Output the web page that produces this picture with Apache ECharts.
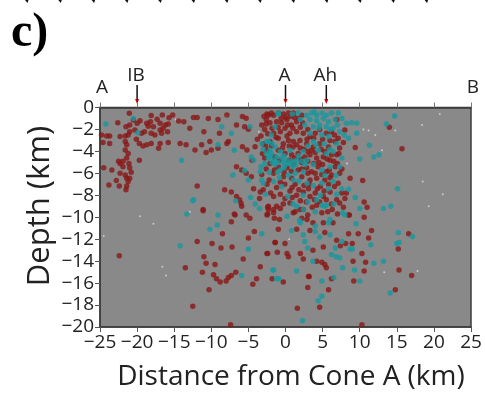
<!DOCTYPE html>
<html><head><meta charset="utf-8">
<script src="https://cdn.jsdelivr.net/npm/echarts@6/dist/echarts.min.js"></script>
<style>html,body{margin:0;padding:0;background:#fff;overflow:hidden}#c{width:485px;height:398px}</style>
</head><body><div id="c"></div>
<script>
// Axis settings
const xRange = [-25, 25];
const xStep = 5;
const yRange = [-20, 0];
const yStep = 2;
const xTitle = 'Distance from Cone A (km)';
const yTitle = 'Depth (km)';
const panelLabel = 'c)';
// Profile end labels and cone markers (km along profile)
const endLabels = [{ text: 'A', x: -25 }, { text: 'B', x: 25 }];
const coneMarkers = [{ text: 'IB', x: -20 }, { text: 'A', x: 0 }, { text: 'Ah', x: 5.5 }];

// Red events [distance, depth]
const redEvents = [
[-21.05,-0.53],[-18.1,-0.74],[-16.6,-0.68],[-15.7,-0.93],[-15.2,-0.68],[-14.4,-1.23],[-12.4,-0.9],[-11.9,-0.9],[-7.9,-0.68],[-5.8,-0.83],[-5.3,-0.99],
[-22.6,-1.38],[-20.5,-1.14],[-20.0,-1.44],[-19.6,-1.2],[-18.7,-1.44],[-18.2,-1.29],[-17.3,-1.08],[-16.9,-1.44],[-16.2,-1.59],[-15.8,-1.5],[-17.8,-1.75],[-18.5,-1.7],[-21.0,-1.6],[-21.5,-1.75],
[-21.0,-2.2],[-20.3,-2.05],[-19.4,-2.35],[-19.0,-2.2],[-18.1,-2.35],[-17.6,-2.5],[-16.9,-2.05],[-16.7,-2.35],[-16.5,-1.9],[-15.9,-2.2],
[-24.8,-2.5],[-24.1,-2.6],[-23.7,-2.6],[-22.3,-2.65],[-21.6,-2.6],[-21.2,-2.5],
[-24.6,-3.2],[-23.7,-3.27],[-21.6,-3.1],[-21.4,-3.4],[-20.1,-2.9],[-19.7,-3.27],[-19.2,-3.5],[-18.7,-3.4],[-18.1,-3.27],[-16.9,-3.27],[-15.8,-3.2],[-17.1,-3.72],[-14.2,-3.27],[-13.4,-3.4],[-12.2,-3.87],[-11.3,-3.4],[-10.7,-4.1],[-10.2,-3.1],[-10.0,-3.87],[-9.1,-3.72],[-7.9,-3.27],[-7.7,-3.1],[-8.9,-2.35],[-6.6,-1.59],[-5.5,-1.75],[-5.0,-1.99],
[-13.7,-1.3],[-10.4,-1.0],[-9.1,-1.1],[-12.9,-1.9],[-11.0,-2.2],
[-21.6,-3.87],[-21.2,-4.2],[-21.4,-4.6],[-21.9,-4.9],[-22.3,-5.1],[-22.5,-4.9],[-21.1,-5.1],[-21.0,-5.5],[-20.8,-5.9],[-21.9,-5.4],[-24.5,-5.5],[-23.4,-5.7],[-22.3,-6.0],[-21.6,-6.15],[-21.4,-6.45],[-21.0,-6.45],[-21.2,-6.75],[-22.8,-6.65],[-23.8,-7.06],[-22.4,-7.15],[-21.4,-7.15],[-21.5,-7.5],[-19.7,-4.8],[-11.9,-7.15],
[-5.8,-3.57],[-5.2,-3.87],[-4.1,-3.57],[-6.6,-5.4],[-5.9,-5.7],[-5.3,-6.0],[-4.6,-6.3],[-8.2,-7.5],[-7.3,-7.7],[-6.6,-8.1],[-6.2,-8.4],[-5.9,-9.0],[-6.8,-9.8],[-4.3,-7.4],[-3.4,-7.7],[-2.3,-9.3],[-11.1,-9.3],[-4.5,-4.8],[-3.8,-2.9],[-2.3,-0.7],[-2.6,-1.5],
[-11.1,-9.4],[-8.5,-11.5],[-11.9,-12.2],[-9.9,-12.4],[-8.7,-12.8],[-7.2,-12.7],[-22.4,-13.5],[-13.5,-14.6],[-11.0,-13.6],[-10.7,-14.2],[-9.5,-14.3],[-11.2,-15.0],[-9.7,-15.25],[-9.3,-15.6],[-8.8,-15.9],[-8.0,-15.8],[-7.7,-15.5],[-7.3,-15.3],[-6.7,-15.0],[-5.7,-13.8],[-5.0,-11.9],[-4.2,-11.3],[-3.4,-14.5],[-3.9,-15.6],[-4.4,-16.1],[-10.3,-16.6],[-12.5,-18.1],[-7.4,-19.8],[-7.3,-10.4],[-6.9,-9.7],[-6.0,-8.7],[-5.3,-9.8],[-4.8,-10.1],[-2.5,-9.8],[-1.6,-9.6],[-1.4,-12.3],[-1.1,-13.2],[-2.5,-13.3],[-1.8,-15.6],
[-2.4,-9.1],[-1.6,-9.3],[2.4,-9.3],[-2.4,-9.7],[-1.5,-10.1],[-0.8,-10.2],[1.05,-9.6],[2.9,-10.2],[3.7,-10.5],[5.1,-10.5],[6.4,-10.5],[8.6,-9.8],[-0.97,-11.1],[1.5,-11.1],[3.3,-11.2],[5.3,-11.4],[6.9,-12.1],[8.1,-12.4],[9.0,-12.4],[-1.4,-12.3],[-0.07,-12.4],[3.7,-13.0],[5.1,-12.7],[7.4,-12.6],[4.9,-14.1],[4.2,-14.0],[5.3,-14.3],[5.5,-14.6],[2.0,-13.3],[0.2,-13.3],[0.4,-13.6],[3.1,-15.4],[-2.4,-13.3],[2.4,-13.8],
[11.0,-9.1],[11.6,-11.2],[16.6,-11.5],[15.2,-12.9],[11.2,-11.9],[9.8,-11.5],[8.5,-11.5],[10.6,-10.0],[10.3,-13.3],[9.1,-14.0],[10.8,-14.1],[10.6,-14.9],[15.3,-14.8],[17.0,-15.3],[9.2,-15.8],[5.8,-16.6],[3.0,-16.4],[3.2,-15.4],[6.2,-15.6],[-0.3,-15.9],[14.8,-16.6],[4.6,-18.2],[1.6,-18.3],[10.3,-19.8],
[14.0,-1.8],[15.7,-3.75],[9.4,-3.65],[10.4,-6.66],[10.6,-8.6],
[-2.5,-0.6],[-1.6,-0.7],[-0.97,-0.5],[-0.3,-0.6],[0.4,-0.5],[1.05,-0.5],[2.2,-0.7],[-2.6,-1.1],[-2.1,-1.4],[-1.2,-1.3],[-0.5,-1.4],[0.2,-1.1],[0.8,-1.6],[1.5,-1.3],[-3.2,-1.6],[-2.8,-2.0],[-1.6,-2.35],[-0.7,-2.2],[-0.07,-1.9],[0.6,-2.35],[1.5,-2.2],[2.4,-2.35],[3.3,-2.65],[4.0,-2.35],[5.5,-2.35],[6.2,-2.2],[7.1,-2.8],[8.0,-2.05],[6.9,-1.1],
[-3.0,-3.3],[-2.1,-3.1],[-0.97,-2.8],[-0.3,-3.3],[0.4,-3.0],[1.05,-3.1],[1.95,-3.0],[2.85,-3.3],[3.75,-3.6],[4.6,-3.3],[5.8,-3.6],[6.7,-3.1],[7.3,-3.7],[-2.5,-3.9],[-0.97,-3.9],[-0.07,-4.2],[0.83,-4.3],[1.7,-4.2],[2.6,-4.5],[3.3,-4.3],[4.2,-4.6],[5.1,-4.5],[6.0,-4.8],[6.9,-4.3],[-2.1,-5.1],[-0.97,-5.4],[0.2,-5.5],[1.05,-5.2],[1.7,-5.7],[2.85,-5.5],[3.5,-5.85],[4.4,-5.4],[5.5,-5.85],[6.7,-5.4],[-1.6,-6.0],[-0.3,-6.3],[0.83,-6.45],[2.2,-6.3],[3.3,-6.6],[4.2,-6.45],[5.3,-6.6],[6.2,-6.15],[7.1,-6.9],[8.7,-6.45],[-3.0,-7.5],[-1.6,-8.1],[-1.2,-9.0],[-0.07,-8.3],[1.5,-8.0],[2.4,-7.7],[3.1,-7.4],[3.3,-8.1],[4.0,-7.8],[5.1,-8.1],[5.5,-8.4],[6.0,-7.7],[6.9,-8.4],[7.3,-8.7],[8.0,-8.3],[8.5,-9.8],[-2.3,-9.0],[-0.7,-9.2],[0.6,-8.7],[1.95,-9.3],[4.2,-8.9],[4.9,-9.6],[2.2,-10.1],
[0.0,-0.9],[1.2,-0.9],[-1.8,-1.9],[3.0,-2.0],[4.6,-2.0],[-1.3,-2.7],[0.2,-2.6],[1.0,-3.6],[2.0,-3.7],[3.0,-4.0],[4.0,-4.1],[5.3,-4.0],[-1.5,-4.5],[0.5,-4.8],[2.2,-5.0],[3.8,-5.1],[5.0,-5.2],[6.0,-6.4],[-0.7,-6.8],[1.3,-7.0],[2.5,-7.1],[4.7,-7.2],[5.8,-7.0],[0.6,-7.6],[-2.2,-6.6],[7.6,-5.6],[8.2,-7.8],[3.6,-9.1],[6.3,-9.3],
[-2.9,-0.8],[-1.9,-0.5],[-0.6,-1.0],[0.7,-0.8],[1.8,-1.0],[2.3,-1.4],[-2.4,-2.4],[-1.0,-1.8],[0.3,-1.6],[1.0,-1.9],[2.0,-1.8],[2.9,-2.9],[3.8,-2.8],[5.0,-2.9],[6.0,-3.0],[6.6,-2.5],[7.8,-3.2],[-3.3,-2.6],[-2.7,-3.5],[-1.9,-3.5],[-0.4,-3.7],[0.5,-3.5],[1.5,-3.4],[2.5,-3.8],[3.5,-3.9],[4.8,-3.8],[6.2,-4.3],[7.2,-4.2],[-3.1,-4.2],[-2.8,-4.6],[-0.8,-4.8],[1.2,-4.6],[2.0,-4.7],[3.0,-4.9],[4.5,-5.0],[5.6,-4.7],[6.5,-4.9],[7.0,-5.1],[-2.6,-5.6],[-1.5,-5.7],[-0.2,-5.9],[0.8,-5.8],[2.2,-5.6],[3.0,-6.0],[4.0,-6.0],[4.9,-6.1],[5.9,-5.7],[7.3,-6.0],[-3.2,-6.1],[-2.5,-7.0],[-1.2,-7.3],[-0.1,-7.0],[0.9,-7.3],[1.8,-7.5],[3.2,-7.0],[4.3,-7.4],[5.2,-7.6],[6.6,-7.2],[7.6,-7.8],[-2.0,-7.8],[-0.7,-7.9],[0.9,-8.2],[2.0,-8.5],[2.8,-8.6],[3.9,-8.4],[4.6,-8.6],[6.2,-8.8],[7.8,-9.1],[-3.5,-8.3],[-0.3,-8.8],[1.3,-9.5],[3.0,-9.8],[5.7,-9.5],[7.0,-9.7]
];

// Teal events [distance, depth]
const tealEvents = [
[-24.2,-1.5],[-20.5,-1.0],[-19.9,-2.3],[-14.0,-4.8],[-7.3,-2.35],[-6.9,-3.9],[-7.1,-6.15],[-5.5,-5.75],[-5.0,-6.6],[-3.4,-5.85],[-3.2,-6.6],[-4.3,-4.8],[-4.6,-4.5],[-12.4,-8.4],[-13.3,-9.7],[-6.7,-8.5],[-4.7,-8.2],[-4.8,-1.75],[-8.6,-1.75],[-1.0,-0.6],[-1.9,-2.5],[-2.5,-3.1],[-9.1,-3.4],[-3.2,-3.3],
[-12.5,-8.5],[-9.1,-9.8],[-9.2,-10.7],[-10.2,-11.1],[-14.2,-12.6],[-5.9,-15.3],[-5.0,-12.9],[-3.2,-11.5],[-4.1,-8.8],[-3.5,-9.2],[-1.7,-14.8],[-1.2,-15.6],
[14.2,-9.0],[13.2,-9.2],[10.0,-9.2],[15.2,-11.4],[17.1,-11.76],[15.0,-12.4],[15.3,-12.3],[11.5,-12.5],[9.5,-10.6],[11.9,-14.2],[13.2,-14.0],[7.7,-14.6],[9.3,-14.8],[10.0,-15.8],[4.9,-15.8],[6.5,-15.5],[1.5,-14.9],[-1.6,-14.8],[-0.9,-15.6],[14.1,-16.9],[4.9,-17.2],[4.4,-17.6],[2.3,-19.4],[0.2,-9.9],[1.9,-10.3],[2.0,-10.5],[4.0,-10.8],[5.8,-10.5],[7.7,-9.6],[0.83,-11.2],[2.4,-11.6],[4.0,-11.3],[4.6,-11.8],[6.0,-11.6],[7.6,-12.2],[8.7,-12.9],[9.0,-12.9],[2.6,-12.2],[6.7,-12.8],[6.8,-13.6],[7.3,-13.7],[6.2,-13.4],[3.0,-12.8],[3.7,-14.0],[4.9,-8.9],[5.5,-8.9],[6.5,-8.8],[1.0,-8.8],
[14.7,-0.77],[13.6,-1.5],[9.6,-1.44],[11.3,-3.45],[11.9,-4.5],[12.6,-4.3],[10.0,-4.7],[15.1,-7.4],[9.4,-8.2],[8.5,-7.45],
[2.85,-0.7],[3.5,-0.5],[4.2,-0.7],[4.9,-0.5],[5.5,-0.7],[6.2,-0.5],[7.1,-0.5],[3.3,-1.1],[4.2,-1.2],[5.1,-1.0],[5.8,-1.3],[6.7,-1.1],[7.6,-1.0],[2.6,-1.6],[3.75,-1.75],[4.6,-1.6],[5.5,-1.75],[6.4,-1.9],[8.2,-1.44],[8.9,-1.4],[9.6,-2.35],[8.5,-2.8],[7.3,-2.2],[-0.97,-0.5],[-1.4,-1.75],[3.3,-2.35],[4.9,-2.5],[5.8,-2.65],[3.75,-3.1],[6.9,-3.3],[-2.3,-3.1],[-2.1,-3.9],[-1.4,-3.6],[-1.9,-4.2],[-1.2,-4.5],[-0.5,-4.6],[0.2,-4.8],[0.83,-4.9],[1.5,-4.8],[2.2,-4.9],[2.85,-4.8],[-0.7,-4.0],[0.6,-3.9],[2.4,-4.0],[4.4,-3.9],[5.5,-4.2],[6.4,-4.0],[7.6,-4.6],[7.3,-5.4],[6.0,-5.4],[4.9,-5.7],[3.75,-5.2],[-2.3,-4.6],[-2.8,-5.1],[-1.4,-5.2],[-0.7,-5.7],[0.4,-6.15],[1.3,-6.0],[2.4,-5.85],[3.75,-7.1],[4.9,-6.9],[5.8,-7.4],[6.4,-6.75],[7.6,-7.4],[1.05,-6.6],[-0.5,-7.2],[-1.6,-6.75],[-3.0,-6.9],[2.4,-8.0],[4.2,-8.4],[5.3,-9.0],[1.5,-9.0],[2.4,-9.3],[4.0,-9.5],[6.0,-10.2],[8.0,-9.8],[-1.8,-5.0],[-1.0,-5.0],[0.0,-5.2],[1.0,-5.4],[-2.0,-4.4],[-0.2,-4.4],[1.8,-4.4],
[0.9,-0.6],[1.7,-0.5],[2.0,-1.1],[3.9,-0.4],[4.5,-1.9],[6.0,-2.0],[7.0,-1.6],[7.9,-2.5],[3.0,-3.5],[4.1,-3.4],[5.2,-3.3],[6.0,-3.8],[-3.0,-3.8],[-2.6,-4.2],[-1.6,-4.8],[-0.3,-5.0],[0.6,-5.1],[1.4,-5.2],[2.6,-5.2],[-0.2,-5.5],[-1.1,-5.9],[-2.2,-5.9],[-3.3,-5.4],[5.3,-6.2],[6.8,-6.2],[2.9,-6.9],[1.8,-6.7],[-0.8,-6.4],[6.9,-7.9],[3.0,-8.6],[4.7,-8.0],[-2.7,-7.9],[0.3,-8.1],[-1.8,-3.3]
];

// Faint small events [distance, depth]
const faintEvents = [
[-12.9,-9.5],[-19.6,-9.9],[-17.8,-10.6],[-24.5,-11.7],[-16.6,-14.5],[-16.1,-15.3],[20.8,-0.6],[18.4,-1.6],[14.8,-2.1],[10.5,-2.0],[11.2,-2.1],[12.1,-2.5],[13.0,-3.9],[18.5,-6.75],[21.2,-7.9],[19.3,-9.0],[8.3,-5.1],[17.8,-14.9],[13.3,-15.0],[-8.0,-0.8],[-3.6,-2.2],[0.5,-12.0],[-14.8,-1.1],[2.8,-5.4],[-0.4,-3.6]
];

const fontSans = '"Open Sans", Lato, sans-serif';
const fmtMinus = v => (v < 0 ? '\u2212' + Math.abs(v) : String(v));

const chart = echarts.init(document.getElementById('c'), null, { renderer: 'canvas' });
const gridBox = { left: 100, top: 107.5, right: 14, bottom: 71 };

const option = {
  animation: false,
  backgroundColor: '#ffffff',
  grid: Object.assign({ show: true, backgroundColor: '#898989', borderColor: '#3c3c3c', borderWidth: 1.5 }, gridBox),
  xAxis: [{
    type: 'value', min: xRange[0], max: xRange[1], interval: xStep, position: 'bottom',
    axisLine: { show: true, onZero: false, lineStyle: { color: '#3c3c3c', width: 1.5 } },
    axisTick: { show: true, inside: false, length: 5, lineStyle: { color: '#555' } },
    axisLabel: { show: true, formatter: fmtMinus, fontFamily: fontSans, fontSize: 19, color: '#222', margin: 6 },
    splitLine: { show: false }
  }, {
    type: 'value', min: xRange[0], max: xRange[1], interval: xStep, position: 'top',
    axisLine: { show: true, onZero: false, lineStyle: { color: '#3c3c3c', width: 1.5 } },
    axisTick: { show: true, inside: false, length: 5, lineStyle: { color: '#777' } },
    axisLabel: { show: false }, splitLine: { show: false }
  }],
  yAxis: [{
    type: 'value', min: yRange[0], max: yRange[1], interval: yStep,
    axisLine: { show: true, onZero: false, lineStyle: { color: '#3c3c3c', width: 1.5 } },
    axisTick: { show: true, inside: false, length: 5, lineStyle: { color: '#555' } },
    axisLabel: { show: true, formatter: fmtMinus, fontFamily: fontSans, fontSize: 19, color: '#222', margin: 6 },
    splitLine: { show: false }
  }],
  series: [
    { type: 'scatter', data: faintEvents, symbol: 'circle', symbolSize: 2, itemStyle: { color: '#d9d9d9' }, silent: true },
    { type: 'scatter', data: redEvents, symbol: 'circle', symbolSize: 5.5, itemStyle: { color: '#8b1717' }, silent: true },
    { type: 'scatter', data: tealEvents, symbol: 'circle', symbolSize: 5.5, itemStyle: { color: '#16999d' }, silent: true }
  ]
};
chart.setOption(option);

// Annotations computed through the chart's own axis
const px = x => chart.convertToPixel({ xAxisIndex: 0 }, x);
const g = [];
// panel label
g.push({ type: 'text', left: 11, top: 10, style: { text: panelLabel, font: 'bold 48px "Liberation Serif", "DejaVu Serif", serif', fill: '#000' } });
// fragment marks at very top (from panel above)
for (let i = 0; i < 13; i++) {
  const mx = 27 + i * 33.3;
  g.push({ type: 'polygon', shape: { points: [[mx - 2, 0], [mx + 1.5, 0], [mx + 0.5, 3]] }, style: { fill: '#111' } });
}
endLabels.forEach(l => {
  g.push({ type: 'text', x: px(l.x) + 2, y: 88, style: { text: l.text, font: '19px ' + fontSans, fill: '#222', align: 'center', verticalAlign: 'middle' } });
});
coneMarkers.forEach(m => {
  const cx = px(m.x);
  g.push({ type: 'text', x: cx - 1, y: 76, style: { text: m.text, font: '19px ' + fontSans, fill: '#222', align: 'center', verticalAlign: 'middle' } });
  g.push({ type: 'line', shape: { x1: cx, y1: 85, x2: cx, y2: 100 }, style: { stroke: '#111', lineWidth: 1.5 } });
  g.push({ type: 'polygon', shape: { points: [[cx - 2, 99], [cx + 2, 99], [cx, 104]] }, style: { fill: '#c00000' } });
});
// axis titles
g.push({ type: 'text', x: 291, y: 377, style: { text: xTitle, font: '28px ' + fontSans, fill: '#222', align: 'center', verticalAlign: 'middle' } });
g.push({ type: 'text', x: 40, y: 206, rotation: Math.PI / 2, style: { text: yTitle, font: '31px ' + fontSans, fill: '#222', align: 'center', verticalAlign: 'middle' } });
chart.setOption({ graphic: g });
</script>
</body></html>
